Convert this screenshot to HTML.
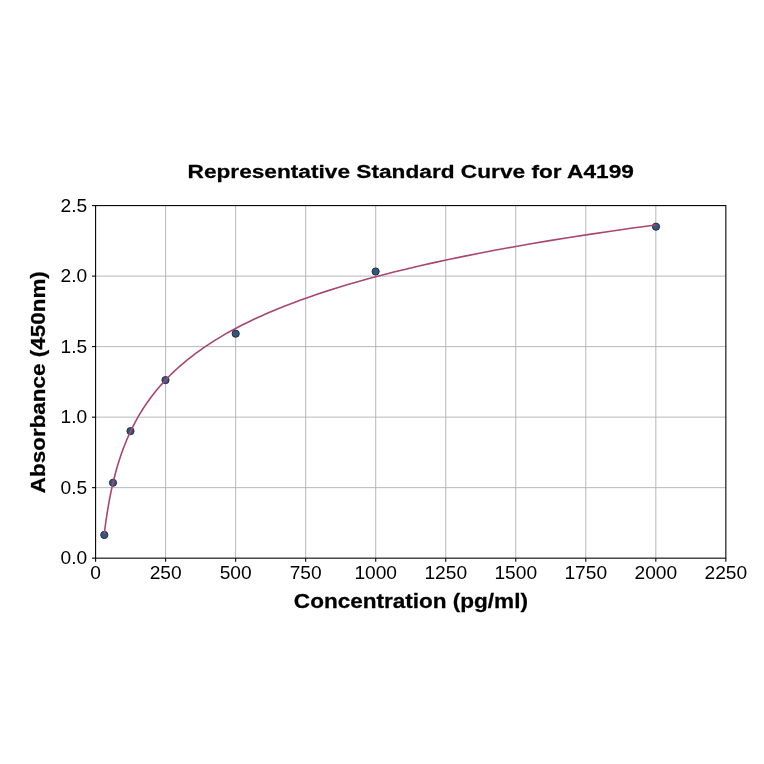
<!DOCTYPE html>
<html><head><meta charset="utf-8"><style>
html,body{margin:0;padding:0;background:#fff;width:764px;height:764px;overflow:hidden}
svg{position:absolute;left:0;top:0;will-change:transform}
text{font-family:"Liberation Sans",sans-serif;fill:#000}
</style></head><body>
<svg width="764" height="764" viewBox="0 0 764 764">
<rect width="764" height="764" fill="#fff"/>
<g stroke="#b0b0b0" stroke-width="0.9" fill="none"><line x1="165.63" y1="205.59" x2="165.63" y2="558.17"/><line x1="235.66" y1="205.59" x2="235.66" y2="558.17"/><line x1="305.68" y1="205.59" x2="305.68" y2="558.17"/><line x1="375.71" y1="205.59" x2="375.71" y2="558.17"/><line x1="445.74" y1="205.59" x2="445.74" y2="558.17"/><line x1="515.76" y1="205.59" x2="515.76" y2="558.17"/><line x1="585.79" y1="205.59" x2="585.79" y2="558.17"/><line x1="655.82" y1="205.59" x2="655.82" y2="558.17"/><line x1="95.60" y1="487.65" x2="725.85" y2="487.65"/><line x1="95.60" y1="417.14" x2="725.85" y2="417.14"/><line x1="95.60" y1="346.62" x2="725.85" y2="346.62"/><line x1="95.60" y1="276.11" x2="725.85" y2="276.11"/></g>
<g fill="#36557a" stroke="#1f2f4f" stroke-width="1"><circle cx="104.3" cy="534.9" r="3.6"/><circle cx="113.0" cy="482.75" r="3.6"/><circle cx="130.5" cy="431.1" r="3.6"/><circle cx="165.5" cy="380.1" r="3.6"/><circle cx="235.7" cy="333.7" r="3.6"/><circle cx="375.6" cy="271.5" r="3.6"/><circle cx="656" cy="226.7" r="3.6"/></g>
<path d="M104.35,533.40 L104.73,530.32 L105.12,527.23 L105.53,524.15 L105.96,521.06 L106.40,517.97 L106.86,514.88 L107.35,511.79 L107.85,508.70 L108.38,505.61 L108.92,502.52 L109.50,499.43 L110.09,496.34 L110.71,493.25 L111.36,490.15 L112.04,487.06 L112.74,483.96 L113.48,480.87 L114.25,477.77 L115.05,474.68 L115.88,471.58 L116.75,468.48 L117.66,465.38 L118.60,462.28 L119.59,459.19 L120.62,456.08 L121.69,452.98 L122.81,449.88 L123.98,446.78 L125.20,443.68 L126.47,440.57 L127.79,437.47 L129.17,434.37 L130.61,431.26 L132.12,428.15 L133.68,425.05 L135.32,421.94 L137.02,418.83 L138.80,415.72 L140.65,412.61 L142.58,409.50 L144.60,406.39 L146.70,403.28 L148.89,400.17 L151.18,397.06 L153.57,393.95 L156.05,390.83 L158.65,387.72 L161.35,384.60 L164.17,381.49 L167.11,378.37 L170.18,375.26 L173.38,372.14 L176.72,369.02 L180.20,365.90 L183.83,362.78 L187.61,359.66 L191.56,356.54 L195.68,353.42 L199.97,350.30 L204.45,347.18 L209.12,344.06 L213.99,340.93 L219.07,337.81 L224.37,334.68 L229.89,331.56 L235.65,328.43 L241.66,325.30 L247.93,322.18 L254.47,319.05 L261.28,315.92 L268.39,312.79 L275.80,309.66 L283.54,306.53 L291.60,303.40 L300.01,300.27 L308.78,297.14 L317.92,294.00 L327.46,290.87 L337.41,287.74 L347.78,284.60 L358.60,281.47 L369.89,278.33 L381.66,275.19 L393.93,272.06 L406.73,268.92 L420.08,265.78 L434.00,262.64 L448.52,259.50 L463.66,256.36 L479.45,253.22 L495.92,250.08 L513.09,246.93 L531.00,243.79 L549.69,240.65 L569.17,237.50 L589.49,234.36 L610.67,231.21 L632.77,228.07 L655.82,224.92" fill="none" stroke="#a84670" stroke-width="1.6" stroke-linejoin="round" stroke-linecap="round"/>
<rect x="95.60" y="205.59" width="630.25" height="352.57" fill="none" stroke="#000" stroke-width="1.08"/>
<g stroke="#000" stroke-width="1.08"><line x1="95.60" y1="558.17" x2="95.60" y2="561.77"/><line x1="165.63" y1="558.17" x2="165.63" y2="561.77"/><line x1="235.66" y1="558.17" x2="235.66" y2="561.77"/><line x1="305.68" y1="558.17" x2="305.68" y2="561.77"/><line x1="375.71" y1="558.17" x2="375.71" y2="561.77"/><line x1="445.74" y1="558.17" x2="445.74" y2="561.77"/><line x1="515.76" y1="558.17" x2="515.76" y2="561.77"/><line x1="585.79" y1="558.17" x2="585.79" y2="561.77"/><line x1="655.82" y1="558.17" x2="655.82" y2="561.77"/><line x1="725.85" y1="558.17" x2="725.85" y2="561.77"/><line x1="92.00" y1="558.17" x2="95.60" y2="558.17"/><line x1="92.00" y1="487.65" x2="95.60" y2="487.65"/><line x1="92.00" y1="417.14" x2="95.60" y2="417.14"/><line x1="92.00" y1="346.62" x2="95.60" y2="346.62"/><line x1="92.00" y1="276.11" x2="95.60" y2="276.11"/><line x1="92.00" y1="205.59" x2="95.60" y2="205.59"/></g>
<g font-size="17.6"><text transform="matrix(1.09,0,0,1,-8.604,0)" x="95.60" y="578.9" text-anchor="middle">0</text><text transform="matrix(1.09,0,0,1,-14.906,0)" x="165.63" y="578.9" text-anchor="middle">250</text><text transform="matrix(1.09,0,0,1,-21.209,0)" x="235.66" y="578.9" text-anchor="middle">500</text><text transform="matrix(1.09,0,0,1,-27.511,0)" x="305.68" y="578.9" text-anchor="middle">750</text><text transform="matrix(1.09,0,0,1,-33.814,0)" x="375.71" y="578.9" text-anchor="middle">1000</text><text transform="matrix(1.09,0,0,1,-40.116,0)" x="445.74" y="578.9" text-anchor="middle">1250</text><text transform="matrix(1.09,0,0,1,-46.419,0)" x="515.76" y="578.9" text-anchor="middle">1500</text><text transform="matrix(1.09,0,0,1,-52.721,0)" x="585.79" y="578.9" text-anchor="middle">1750</text><text transform="matrix(1.09,0,0,1,-59.024,0)" x="655.82" y="578.9" text-anchor="middle">2000</text><text transform="matrix(1.09,0,0,1,-65.326,0)" x="725.85" y="578.9" text-anchor="middle">2250</text><text transform="matrix(1.09,0,0,1,-7.848,0)" x="87.2" y="564.37" text-anchor="end">0.0</text><text transform="matrix(1.09,0,0,1,-7.848,0)" x="87.2" y="493.85" text-anchor="end">0.5</text><text transform="matrix(1.09,0,0,1,-7.848,0)" x="87.2" y="423.34" text-anchor="end">1.0</text><text transform="matrix(1.09,0,0,1,-7.848,0)" x="87.2" y="352.82" text-anchor="end">1.5</text><text transform="matrix(1.09,0,0,1,-7.848,0)" x="87.2" y="282.31" text-anchor="end">2.0</text><text transform="matrix(1.09,0,0,1,-7.848,0)" x="87.2" y="211.79" text-anchor="end">2.5</text></g>
<text transform="matrix(1.181,0,0,1,-74.337,0)" x="410.7" y="178.3" font-size="19.2" font-weight="bold" text-anchor="middle" stroke="#000" stroke-width="0.25">Representative Standard Curve for A4199</text>
<text transform="matrix(1.162,0,0,1,-66.566,0)" x="410.9" y="608.3" font-size="19.4" font-weight="bold" text-anchor="middle" stroke="#000" stroke-width="0.25">Concentration (pg/ml)</text>
<text transform="translate(45.4,382.2) rotate(-90) scale(1.158,1)" x="0" y="0" font-size="19.4" font-weight="bold" text-anchor="middle" stroke="#000" stroke-width="0.25">Absorbance (450nm)</text>
</svg>
</body></html>
